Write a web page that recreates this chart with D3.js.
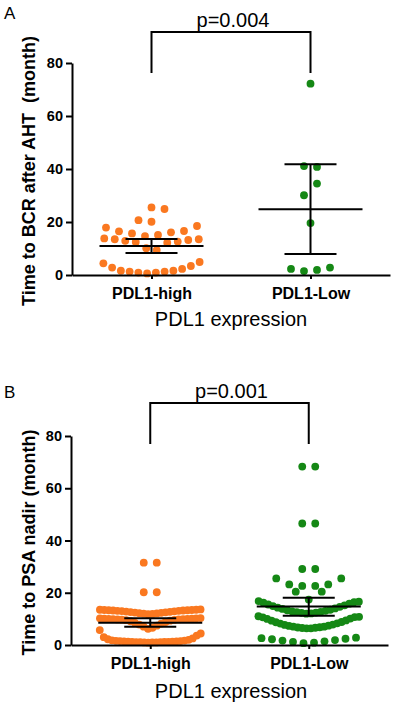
<!DOCTYPE html>
<html>
<head>
<meta charset="utf-8">
<script src="https://cdn.jsdelivr.net/npm/d3@7"></script>
<style>
  body { margin: 0; background: #fff; }
  text { font-family: "Liberation Sans", Arial, sans-serif; }
</style>
</head>
<body>
<div id="chart"></div>
<script>
// categories and ticks
const groups = ["PDL1-high", "PDL1-Low"];
const yTicks = [0, 20, 40, 60, 80];

// panel A: time to BCR after AHT (month), values in data order
const bcrHigh = [0.6, 0.9, 0.9, 1.3, 1.3, 1.6, 1.6, 2.3, 2.8, 3.4, 4.4, 4.9,
  10.1, 9.4, 12.5, 12.2, 12.9, 12.6, 13.5, 13.2, 13.8, 13.5,
  14.7, 15.1, 15.7, 16.1, 16.5, 16.6, 17.9, 18.5,
  20.1, 20.7, 24.9, 25.5];
const bcrLow = [1.5, 1.9, 2.3, 2.8, 19.6, 30.1, 34.5, 41.1, 40.8, 72.2];

// panel B: time to PSA nadir (month)
const nadirHigh = [0.9, 1.0, 1.0, 1.0, 1.1, 1.1, 1.1, 1.2, 1.2, 1.2, 1.3, 1.3, 1.4,
  1.4, 1.5, 1.5, 1.6, 1.7, 1.8, 2.0, 2.2, 2.5, 3.0, 3.6, 5.7, 4.4,
  6.2, 6.6, 7.0, 7.4, 7.8, 8.2, 8.5, 8.8, 9.1, 9.3, 9.5, 9.6, 9.7, 9.8, 9.8,
  9.9, 9.9, 10.0, 10.0, 10.1, 10.1, 10.2, 10.2, 10.3,
  11.8, 11.9, 12.0, 12.1, 12.2, 12.3, 12.4, 12.5, 12.6, 12.7, 12.8, 12.9,
  13.0, 13.1, 13.1, 13.2, 13.2, 13.3, 13.3, 13.4, 13.4, 13.5, 13.5, 13.6,
  20.2, 20.2, 31.5, 31.5];
const nadirLow = [0.7, 0.9, 1.2, 1.4, 1.7, 1.9, 2.2, 2.4, 2.6, 2.8,
  6.4, 6.4, 6.5, 6.6, 6.7, 6.8, 7.0, 7.0, 7.3, 7.4, 7.7, 7.8, 8.2, 8.3,
  8.7, 8.8, 9.3, 9.4, 10.0, 10.1, 10.6, 10.7, 11.0, 10.8,
  12.0, 12.1, 12.3, 12.4, 12.6, 12.7, 12.9, 13.1, 13.3, 13.5, 13.8, 14.0,
  14.3, 14.6, 14.9, 15.2, 15.5, 15.8, 16.2, 16.4, 16.8, 16.6,
  17.4, 20.4, 20.4, 22.6, 22.6, 23.2, 23.2, 25.5, 25.5, 29.1, 29.1,
  46.5, 46.5, 68.3, 68.3];

// mean and 95% CI: [mean, lower, upper]
const bcrStats = [[10.9, 8.3, 13.6], [24.8, 7.9, 41.8]];
const nadirStats = [[8.5, 7.0, 10.2], [14.7, 11.2, 18.1]];
const pValues = ["p=0.004", "p=0.001"];

const COLORS = ["#fa7820", "#158815"];

const svg = d3.select("#chart").append("svg")
    .attr("width", 395)
    .attr("height", 709);

// GraphPad-like column scatter: bin into rows, spread each row around the centre
function swarm(values, y, rowH, maxStep, maxWidth) {
    const order = d3.range(values.length).sort((a, b) => values[a] - values[b] || a - b);
    const rows = [];
    let cur = null;
    order.forEach(i => {
        if (!cur || y(cur.start) - y(values[i]) > rowH) {
            cur = { start: values[i], idx: [] };
            rows.push(cur);
        }
        cur.idx.push(i);
    });
    const off = new Array(values.length);
    rows.forEach(r => {
        const idx = r.idx.slice().sort((a, b) => a - b);
        const n = idx.length;
        const s = Math.min(maxStep, maxWidth / n);
        idx.forEach((i, k) => {
            let slot;
            if (n % 2) slot = k === 0 ? 0 : Math.ceil(k / 2) * (k % 2 ? -1 : 1);
            else slot = (Math.floor(k / 2) + 0.5) * (k % 2 ? 1 : -1);
            off[i] = slot * s;
        });
    });
    return values.map((v, i) => ({ value: v, dx: off[i] }));
}

function drawPanel(p) {
    const g = svg.append("g");

    const y = d3.scaleLinear().domain([0, 80]).range([p.y0, p.y80]);
    const x = d3.scalePoint().domain(groups).range([p.xLeft, p.xRight]).padding(0.5);

    // dots
    p.series.forEach((vals, gi) => {
        const pts = swarm(vals, y, 13, 13, 105);
        g.append("g")
            .attr("fill", COLORS[gi])
            .selectAll("circle")
            .data(pts)
            .join("circle")
            .attr("cx", d => x(groups[gi]) + d.dx)
            .attr("cy", d => y(d.value))
            .attr("r", 3.9);
    });

    // mean + 95% CI
    const stat = g.append("g")
        .attr("stroke", "#000")
        .attr("stroke-width", 2)
        .attr("fill", "none");
    p.stats.forEach((s, gi) => {
        const cx = x(groups[gi]);
        stat.append("line").attr("x1", cx - 52).attr("x2", cx + 52)
            .attr("y1", y(s[0])).attr("y2", y(s[0]));
        stat.append("line").attr("x1", cx).attr("x2", cx)
            .attr("y1", y(s[1])).attr("y2", y(s[2]));
        stat.append("line").attr("x1", cx - 26).attr("x2", cx + 26)
            .attr("y1", y(s[1])).attr("y2", y(s[1]));
        stat.append("line").attr("x1", cx - 26).attr("x2", cx + 26)
            .attr("y1", y(s[2])).attr("y2", y(s[2]));
    });

    // axes
    const yAxis = g.append("g")
        .attr("transform", `translate(${p.xLeft},0)`)
        .call(d3.axisLeft(y).tickValues(yTicks).tickSize(6).tickSizeOuter(0).tickPadding(3));
    const xAxis = g.append("g")
        .attr("transform", `translate(0,${p.y0})`)
        .call(d3.axisBottom(x).tickSize(4).tickSizeOuter(0).tickPadding(8.5));
    [yAxis, xAxis].forEach(a => {
        a.selectAll("path, line").attr("stroke", "#000").attr("stroke-width", 2);
        a.selectAll("text")
            .attr("fill", "#000")
            .style("font-family", '"Liberation Sans", Arial, sans-serif')
            .style("font-weight", "bold");
    });
    yAxis.selectAll("text").style("font-size", "14.5px");
    xAxis.selectAll("text").style("font-size", "16px");

    // significance bracket
    const bx0 = x(groups[0]), bx1 = x(groups[1]);
    g.append("path")
        .attr("d", `M${bx0},${p.brBottom}V${p.brTop}H${bx1}V${p.brBottom}`)
        .attr("fill", "none")
        .attr("stroke", "#000")
        .attr("stroke-width", 2);
    g.append("text")
        .attr("x", (bx0 + bx1) / 2 + 2)
        .attr("y", p.pY)
        .attr("text-anchor", "middle")
        .style("font-size", "20px")
        .text(p.pText);

    // panel letter
    g.append("text")
        .attr("x", 4)
        .attr("y", p.letterY)
        .style("font-size", "17px")
        .text(p.letter);

    // axis titles
    g.append("text")
        .attr("transform", `translate(35,${(p.y0 + p.y80) / 2 + 2}) rotate(-90)`)
        .attr("text-anchor", "middle")
        .style("font-size", "18px")
        .style("font-weight", "bold")
        .style("white-space", "pre")
        .text(p.yTitle);
    g.append("text")
        .attr("x", 231)
        .attr("y", p.xTitleY)
        .attr("text-anchor", "middle")
        .style("font-size", "20px")
        .text("PDL1 expression");
}

drawPanel({
    letter: "A", letterY: 19,
    series: [bcrHigh, bcrLow], stats: bcrStats, pText: pValues[0],
    y0: 275, y80: 63, xLeft: 72, xRight: 390,
    brTop: 32, brBottom: 73, pY: 27,
    yTitle: "Time to BCR after AHT  (month)", xTitleY: 326
});

drawPanel({
    letter: "B", letterY: 398,
    series: [nadirHigh, nadirLow], stats: nadirStats, pText: pValues[1],
    y0: 645, y80: 436, xLeft: 71, xRight: 388,
    brTop: 403, brBottom: 444, pY: 398,
    yTitle: "Time to PSA nadir (month)", xTitleY: 698
});
</script>
</body>
</html>
